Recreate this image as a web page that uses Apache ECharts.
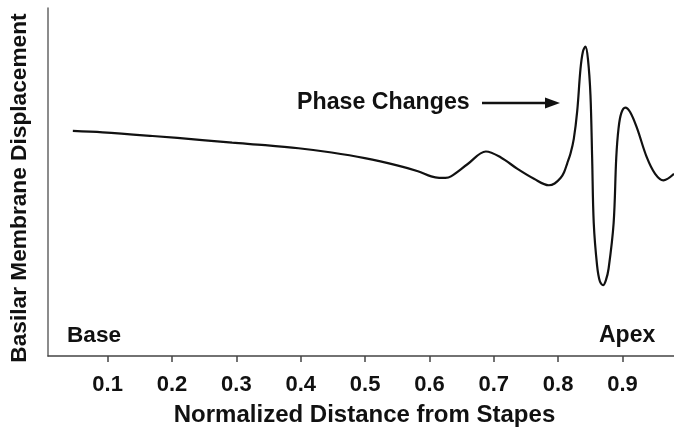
<!DOCTYPE html>
<html>
<head>
<meta charset="utf-8">
<script src="https://cdn.jsdelivr.net/npm/echarts@6/dist/echarts.min.js"></script>
<style>
html,body{margin:0;padding:0;background:#fff;}
#chart{width:674px;height:432px;}
</style>
</head>
<body>
<div id="chart"></div>
<script>
// Normalized distance from stapes (x) and basilar membrane displacement (arbitrary units)
const distance = [0.0459,0.0923,0.1697,0.2470,0.2934,0.3445,0.3965,0.4480,0.4995,0.5512,0.5821,0.6027,0.6151,0.6248,0.6334,0.6595,0.6877,0.7110,0.7368,0.7624,0.7856,0.7945,0.8037,0.8092,0.8141,0.8192,0.8243,0.8296,0.8347,0.8386,0.8424,0.8463,0.8502,0.8528,0.8553,0.8605,0.8648,0.8698,0.8741,0.8784,0.8862,0.8903,0.8939,0.8981,0.9042,0.9120,0.9224,0.9378,0.9507,0.9635,0.9800];
const displacement = [64.69,64.27,63.22,62.06,61.30,60.59,59.69,58.47,56.86,54.72,53.11,51.61,51.21,51.20,51.61,55.17,58.76,57.06,53.76,50.93,49.07,49.58,51.13,52.82,55.37,58.19,62.40,70.34,82.49,87.57,88.90,85.31,74.94,57.06,38.22,25.99,21.47,20.34,21.75,25.14,38.22,57.06,65.54,69.77,71.38,70.06,65.54,57.06,52.34,50.48,52.34];
const tickValues = [0.1,0.2,0.3,0.4,0.5,0.6,0.7,0.8,0.9];
const xTitle = 'Normalized Distance from Stapes';
const yTitle = 'Basilar Membrane Displacement';
const annotations = {base: 'Base', apex: 'Apex', phase: 'Phase Changes'};

const FONT = '"Liberation Sans", Arial, Helvetica, sans-serif';
const chart = echarts.init(document.getElementById('chart'), null, {renderer: 'canvas'});
const data = distance.map((d, i) => [d, displacement[i]]);

chart.setOption({
  animation: false,
  backgroundColor: '#fff',
  grid: {left: 45, right: 0, top: 8, bottom: 70, containLabel: false},
  xAxis: {
    type: 'value',
    min: 0.0073,
    max: 0.98,
    name: xTitle,
    nameLocation: 'middle',
    nameGap: 47,
    nameTextStyle: {fontFamily: FONT, fontWeight: 'bold', fontSize: 24, color: '#111', padding: [0, 0, 0, 7]},
    axisLine: {show: true, onZero: false, lineStyle: {color: '#444', width: 1.5}},
    axisTick: {show: true, customValues: tickValues, length: 6, inside: false, lineStyle: {color: '#444', width: 1.5}},
    axisLabel: {show: true, customValues: tickValues, margin: 18, fontFamily: FONT, fontWeight: 'bold', fontSize: 22, color: '#111',
      formatter: v => v.toFixed(1)},
    splitLine: {show: false}
  },
  yAxis: {
    type: 'value',
    min: 0,
    max: 100,
    name: yTitle,
    nameLocation: 'middle',
    nameGap: 17,
    nameTextStyle: {fontFamily: FONT, fontWeight: 'bold', fontSize: 22.7, color: '#111', padding: [0, 12, 0, 0]},
    axisLine: {show: true, lineStyle: {color: '#666', width: 1.5}},
    axisTick: {show: false},
    axisLabel: {show: false},
    splitLine: {show: false}
  },
  series: [{
    type: 'line',
    data: data,
    smooth: 0.35,
    showSymbol: false,
    lineStyle: {color: '#111', width: 2.2}
  }],
  graphic: [
    {type: 'text', left: 67, top: 324, style: {text: annotations.base, font: 'bold 22.6px ' + FONT, fill: '#111'}},
    {type: 'text', left: 599, top: 324, style: {text: annotations.apex, font: 'bold 23px ' + FONT, fill: '#111'}},
    {type: 'text', left: 297, top: 91, style: {text: annotations.phase, font: 'bold 23.2px ' + FONT, fill: '#111'}},
    {type: 'line', shape: {x1: 482, y1: 103, x2: 548, y2: 103}, style: {stroke: '#111', lineWidth: 2.5}},
    {type: 'polygon', shape: {points: [[545, 97.5], [560, 103], [545, 108.5]]}, style: {fill: '#111'}}
  ]
});
</script>
</body>
</html>
